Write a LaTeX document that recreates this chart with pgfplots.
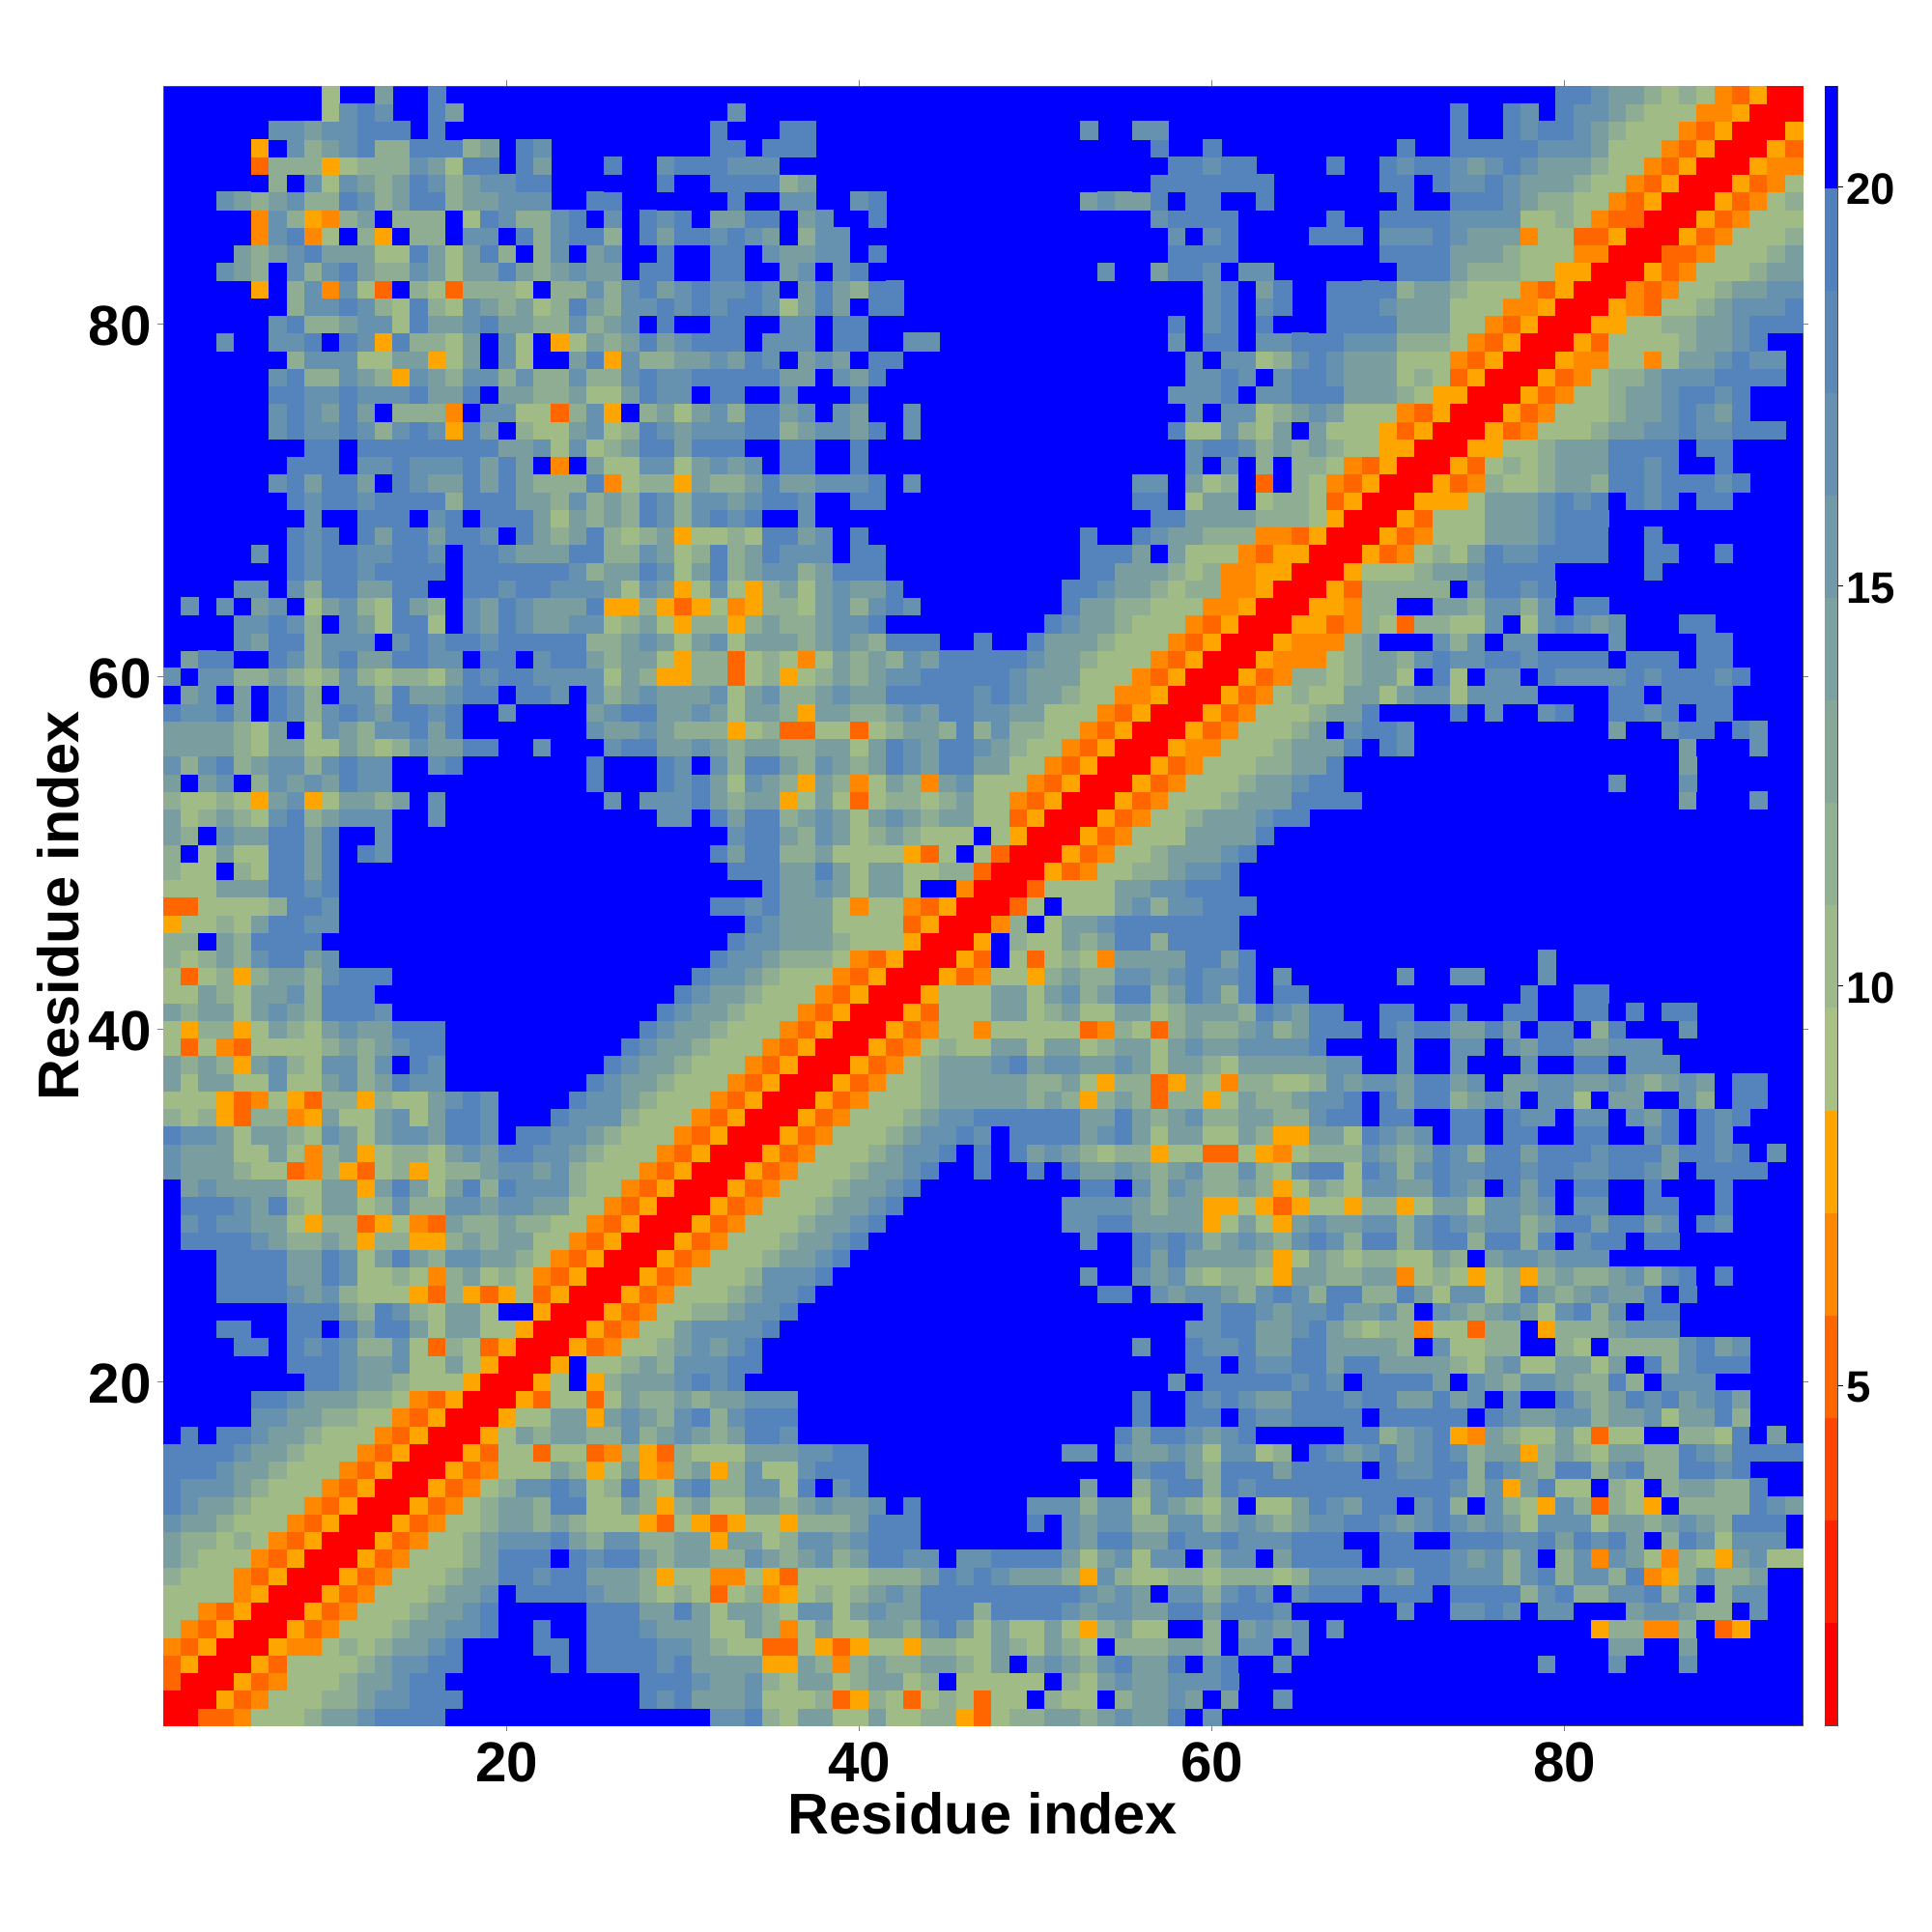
\documentclass[border=0pt]{standalone}
\usepackage{pgfplots}
\usepackage{pgfplotstable}
\pgfplotsset{compat=1.18}
\usepackage{fontspec}
\setmainfont{Liberation Sans}
\definecolor{c0}{RGB}{255,0,0}
\definecolor{c1}{RGB}{255,102,0}
\definecolor{c2}{RGB}{255,136,0}
\definecolor{c3}{RGB}{255,165,0}
\definecolor{c4}{RGB}{161,187,134}
\definecolor{c5}{RGB}{143,173,146}
\definecolor{c6}{RGB}{122,158,160}
\definecolor{c7}{RGB}{102,145,175}
\definecolor{c8}{RGB}{84,132,187}
\definecolor{c9}{RGB}{0,0,255}
\pgfplotsset{cell/.style={scatter, only marks, scatter src=explicit symbolic, mark size=3.285pt, line width=0.1pt,
 scatter/classes={0={mark=square*,c0},1={mark=square*,c1},2={mark=square*,c2},3={mark=square*,c3},4={mark=square*,c4},5={mark=square*,c5},6={mark=square*,c6},7={mark=square*,c7},8={mark=square*,c8},9={mark=square*,c9}}}}
% one row of the matrix: row number, then the colour classes from the diagonal to the right
\newcommand\R[2]{%
 \pgfplotstableread[header=false,row sep=crcr,col sep=space]{#2\\}\T
 \pgfplotstabletranspose\U\T
 \addplot[cell] table[x expr=\coordindex+#1,y expr=#1,meta index=1]{\U};
 \addplot[cell] table[y expr=\coordindex+#1,x expr=#1,meta index=1]{\U};
}
\newcommand\B[4]{\addplot[fill={rgb,255:red,#2;green,#3;blue,#4},draw=none] coordinates {(0,#1)(1,#1)(1,#1+1.2825)(0,#1+1.2825)} --cycle;}
\begin{document}
\begin{tikzpicture}[x=1pt,y=1pt]
\path[use as bounding box] (0,0) rectangle (720,720);
\begin{axis}[at={(60.84pt,77.04pt)},anchor=south west,scale only axis,width=610.9pt,height=610.9pt,
 xmin=0.5,xmax=93.5,ymin=0.5,ymax=93.5,axis background/.style={fill=c9},
 xtick={20,40,60,80},ytick={20,40,60,80},tick align=outside,major tick length=2.2pt,
 tick style={gray,line width=0.3pt},axis line style={line width=0.3pt,black!70},
 /pgf/number format/assume math mode=true,
 tick label style={font=\fontsize{21}{24}\selectfont\bfseries},
 xticklabel style={yshift=-0.7pt},yticklabel style={xshift=1.3pt,yshift=-0.9pt},
 xlabel={Residue index},ylabel={Residue index},
 every axis x label/.style={at={(axis description cs:0.5,0)},anchor=center,yshift=-32.7pt,font=\fontsize{21.4}{24}\selectfont\bfseries},
 every axis y label/.style={at={(axis description cs:0,0.5)},anchor=center,rotate=90,yshift=39.2pt,font=\fontsize{21.4}{24}\selectfont\bfseries}]
\R{1}{0 0 1 1 2 4 4 4 5 6 6 7 8 8 8 8 9 9 9 9 9 9 9 9 9 9 9 9 9 9 9 7 7 8 5 4 6 6 4 4 6 4 4 5 5 3 1 4 5 5 6 6 5 6 7 6 6 8 9 7}
\R{2}{0 0 3 1 2 4 4 4 5 5 6 7 7 8 8 8 9 9 9 9 9 9 9 9 9 9 8 7 8 6 6 6 7 4 4 4 5 1 3 5 4 1 4 5 4 1 4 4 9 5 4 4 9 5 6 6 7 6 9 6 9 9 7}
\R{3}{0 0 3 1 2 4 4 4 5 6 6 7 8 8 9 9 9 9 9 9 9 9 9 9 9 8 8 8 7 6 6 7 5 4 6 6 4 5 6 6 4 5 9 4 4 4 4 4 9 5 4 6 7 6 6 7 7 7 8}
\R{4}{0 0 3 1 4 4 4 4 5 6 7 7 8 8 9 9 9 9 9 8 9 8 8 8 8 7 8 6 6 6 6 3 3 6 5 2 5 6 5 5 6 6 5 4 6 9 6 7 6 5 7 8 6 6 8 9 7 8 9 9 7 9 9 9 9 9 9 9 9 9 9 9 9 9 9 7 9 9 9 7 9 9 9 7}
\R{5}{0 0 3 2 2 4 5 4 5 6 6 7 8 9 9 9 9 8 8 9 8 8 8 8 7 7 6 5 4 4 1 1 4 3 1 3 4 4 3 5 5 4 4 6 5 4 6 5 4 9 5 5 5 6 6 5 9 7 7 9 7 9 9 9 9 9 9 9 9 9 9 9 9 9 9 9 9 9 6 6 9 9 6}
\R{6}{0 0 3 1 2 4 4 4 5 6 6 7 7 8 9 9 8 9 9 8 8 8 7 6 6 6 4 4 6 5 2 4 6 4 4 6 6 5 7 8 6 4 6 4 4 6 4 3 5 6 4 4 9 9 5 9 6 7 6 7 9 7 9 9 9 9 9 9 9 9 9 9 9 9 9 9 3 5 5 2 2 5 9 1 3}
\R{7}{0 0 3 1 2 4 4 4 5 6 6 7 8 9 9 9 9 9 8 8 8 6 6 8 6 4 6 6 5 4 7 7 4 6 7 6 6 8 8 8 5 8 8 8 8 7 6 7 7 6 6 8 8 6 8 8 8 7 9 9 9 9 9 9 7 9 9 7 7 8 7 9 7 7 9 9 9 6 7 7 6 5 5 9 7}
\R{8}{0 0 3 1 2 4 4 4 5 6 6 7 9 8 8 8 8 7 6 6 5 4 5 4 1 4 5 2 3 4 5 4 5 6 7 6 8 8 8 8 8 8 8 8 8 7 6 7 6 9 7 7 5 7 8 7 9 7 8 8 8 9 8 8 8 9 8 8 8 8 5 7 8 5 5 7 7 8 5 7 9 5 7 7}
\R{9}{0 0 3 1 2 4 4 4 5 6 6 8 8 7 8 8 6 6 6 5 3 4 4 2 2 4 3 1 4 4 4 4 5 5 5 6 8 7 8 7 6 6 6 5 3 7 5 4 4 5 5 4 5 5 5 4 5 7 7 7 7 7 6 8 8 7 7 7 5 7 8 5 7 7 5 8 2 3 5 7 5 5 6}
\R{10}{0 0 3 1 2 4 4 4 5 6 8 8 8 9 8 7 8 8 6 5 6 6 5 5 7 6 5 6 7 5 6 8 8 7 7 9 7 7 8 8 8 8 6 4 6 7 4 7 7 9 5 7 7 9 6 8 8 8 8 9 8 8 8 8 7 6 7 5 7 9 5 7 2 7 6 4 2 5 4 3 6 7 4 4}
\R{11}{0 0 3 1 2 4 4 5 6 7 7 7 8 6 5 7 7 5 5 6 6 3 6 6 4 5 7 7 6 7 8 8 8 9 9 9 9 9 9 9 9 7 6 8 8 6 6 8 7 7 8 7 7 7 8 8 8 9 9 8 8 9 9 8 8 8 7 7 8 6 8 7 8 6 9 5 8 7 4 7 7 7}
\R{12}{0 0 3 1 2 4 4 5 6 6 5 6 5 4 4 4 3 1 4 3 1 3 4 4 3 5 5 5 6 8 8 8 9 9 9 9 9 9 8 9 7 6 7 7 5 5 7 7 5 6 7 6 5 6 7 7 8 8 7 6 7 8 7 6 7 6 4 7 7 7 4 6 6 5 6 7 6 5 8 8 8}
\R{13}{0 0 3 1 2 4 5 6 6 5 8 8 4 4 6 5 3 5 6 4 4 6 6 5 6 7 6 6 7 9 8 9 9 9 9 9 9 7 7 7 5 7 7 4 7 6 5 4 6 9 4 4 6 8 7 6 8 8 9 7 8 5 9 7 5 4 3 7 5 1 5 4 3 9 5 5 5 5 8 7 6}
\R{14}{0 0 3 1 2 4 5 7 7 8 7 4 5 8 5 4 7 8 5 5 7 7 4 8 9 7 8 9 9 9 9 9 9 9 9 9 9 9 9 6 9 9 5 7 8 8 5 8 7 8 8 8 8 8 8 8 8 8 8 8 7 5 7 3 6 8 4 4 9 5 4 9 5 6 6 5 5 8}
\R{15}{0 0 3 1 2 4 4 4 6 5 3 4 6 3 2 5 6 3 5 7 4 4 7 8 8 8 9 9 9 9 9 9 9 9 9 9 9 9 9 9 9 7 8 8 6 5 8 8 8 6 8 8 8 8 9 8 7 7 8 8 5 8 7 6 5 8 8 5 7 8 5 5 8 8 7 8}
\R{16}{0 0 3 1 4 4 1 4 4 1 2 5 3 1 5 4 4 4 6 6 6 7 7 8 8 9 9 9 9 9 9 9 9 9 9 9 7 7 9 7 6 6 7 6 4 7 7 4 5 9 8 7 6 7 8 6 7 8 7 5 6 6 3 5 6 5 4 6 6 5 5 8 7 6 8 8 8 8}
\R{17}{0 0 3 4 6 5 6 6 5 5 7 5 6 7 6 5 6 8 8 7 9 9 9 9 9 9 9 9 9 9 9 9 9 9 9 9 9 9 8 6 8 8 7 6 7 8 9 9 9 9 9 8 8 5 6 7 8 3 2 6 5 4 4 6 4 1 4 4 9 9 5 5 4 8 9 6}
\R{18}{0 0 3 4 4 6 6 3 6 7 6 5 7 8 5 7 8 8 8 9 9 9 9 9 9 9 9 9 9 9 9 9 9 9 9 9 9 9 8 9 9 8 8 9 8 7 7 8 8 8 8 9 8 8 8 8 8 9 8 7 6 6 7 7 5 6 6 7 4 6 6 8 5}
\R{19}{0 0 3 1 4 4 1 4 6 5 5 6 5 6 6 7 7 7 9 9 9 9 9 9 9 9 9 9 9 9 9 9 9 9 9 9 9 8 9 9 8 7 8 7 6 6 8 8 8 7 8 8 6 6 8 6 7 9 7 9 9 8 6 5 6 8 7 8 6 7 8 6}
\R{20}{0 0 3 4 9 3 5 6 6 6 7 8 7 8 9 9 9 9 9 9 9 9 9 9 9 9 9 9 9 9 9 9 9 9 9 9 9 9 7 9 8 8 8 8 8 7 8 7 9 8 8 8 8 6 9 7 6 5 7 7 6 5 5 8 5 9 7 7 7}
\R{21}{0 0 3 9 4 4 5 6 5 7 7 7 8 8 9 9 9 9 9 9 9 9 9 9 9 9 9 9 9 9 9 9 9 9 9 9 9 9 8 8 9 8 7 7 8 8 6 8 8 6 6 6 6 5 4 6 7 4 4 6 6 4 6 9 8 5 7 8 8 8}
\R{22}{0 0 3 1 2 4 4 5 6 7 6 7 8 9 9 9 9 9 9 9 9 9 9 9 9 9 9 9 9 9 9 9 9 9 7 9 9 8 7 7 8 6 6 8 8 6 6 6 6 5 9 7 4 4 5 5 9 9 5 4 9 5 5 5 5 7 8 6 7}
\R{23}{0 0 3 1 2 4 4 6 7 7 7 7 8 9 9 9 9 9 9 9 9 9 9 9 9 9 9 9 9 9 9 9 9 9 9 9 7 7 8 8 6 6 7 8 6 5 4 5 5 2 4 4 1 5 5 9 3 5 5 5 6 7 7 7}
\R{24}{0 0 3 1 2 4 4 5 5 6 7 7 8 9 9 9 9 9 9 9 9 9 9 9 9 9 9 9 9 9 9 9 9 9 9 9 7 8 8 7 6 7 7 8 6 6 7 5 9 7 6 5 6 7 6 4 7 8 5 7 9 8 8}
\R{25}{0 0 3 1 2 4 4 4 5 6 7 7 8 9 9 9 9 9 9 9 9 9 9 9 9 9 9 9 9 8 8 9 7 6 7 7 6 5 7 8 7 5 8 8 5 5 8 6 4 7 7 4 5 8 6 5 6 7 6 6 8 9 8}
\R{26}{0 0 3 1 2 4 4 4 5 7 7 7 8 9 9 9 9 9 9 9 9 9 9 9 9 9 9 7 9 9 7 6 7 5 4 5 5 4 3 6 6 5 5 6 6 2 4 5 4 3 4 5 3 5 6 5 5 6 7 5 7 8 9 8}
\R{27}{0 0 3 1 2 4 4 4 5 6 6 7 8 9 9 9 9 9 9 9 9 9 9 9 9 9 9 9 9 8 6 8 6 6 6 6 5 3 4 6 5 4 5 5 4 4 6 5 9 6 7 7 6 7 7 7}
\R{28}{0 0 3 1 2 4 4 4 5 6 6 7 8 9 9 9 9 9 9 9 9 9 9 9 9 7 9 9 8 7 8 7 5 6 7 6 5 7 8 7 5 8 8 5 7 8 8 5 8 8 5 8 9 7 8 8 9 8 8}
\R{29}{0 0 3 1 2 4 4 4 5 6 6 7 8 9 9 9 9 9 9 9 9 9 9 7 7 8 8 6 6 6 6 3 4 6 4 3 6 7 6 6 7 7 5 7 8 7 6 7 7 5 6 8 8 6 8 8 6 7 9 8 7}
\R{30}{0 0 3 1 2 4 4 4 5 6 6 7 8 9 9 9 9 9 9 9 9 9 7 7 7 7 6 5 6 6 3 3 4 3 1 3 4 4 3 5 5 3 4 6 6 4 7 7 6 7 9 7 7 9 9 8 8 9 9 8}
\R{31}{0 0 3 1 2 4 4 4 5 6 6 7 8 9 9 9 9 9 9 9 9 9 8 8 9 7 5 7 6 5 5 6 5 3 4 6 5 4 7 7 6 6 8 7 6 9 8 6 8 9 8 8 9 9 8 9 9 9 8}
\R{32}{0 0 3 1 2 4 4 4 5 6 6 7 8 9 9 8 9 9 8 9 8 6 6 7 6 5 6 7 5 5 7 5 4 7 8 8 4 8 7 5 7 8 7 7 8 8 7 8 8 7 7 8 8 7 6 9 8 8 8 8}
\R{33}{0 0 3 1 2 4 4 4 5 6 7 7 8 9 8 9 8 6 7 6 5 4 5 5 3 4 4 1 1 4 3 2 4 5 5 5 7 6 5 6 8 7 5 8 8 6 8 8 8 7 8 8 8 6 8 8 7 8 9 7}
\R{34}{0 0 3 1 2 4 4 4 5 6 7 7 8 7 9 8 8 8 8 6 7 8 6 4 6 6 4 4 6 5 3 3 6 6 4 8 7 6 7 9 8 8 9 8 8 9 9 8 8 9 9 7 8 9 8 7}
\R{35}{0 0 3 1 2 4 4 4 5 6 7 7 8 8 8 8 8 8 6 6 8 6 5 6 7 5 5 6 6 5 5 7 8 8 9 8 8 9 9 8 8 9 8 7 7 9 7 7 9 7 6 8 9 8 7 8}
\R{36}{0 0 3 1 2 4 4 4 5 6 6 6 6 6 5 6 5 3 5 6 5 1 5 5 3 4 6 5 5 6 7 7 8 9 8 6 8 8 5 6 7 6 9 7 7 4 9 6 6 9 9 7 5 9 8 8}
\R{37}{0 0 3 1 2 4 4 5 6 6 6 6 6 5 5 6 4 3 5 5 1 3 5 4 2 5 5 4 4 5 7 6 7 7 6 8 8 6 7 9 6 6 7 7 6 6 7 6 5 6 7 6 9 8 8}
\R{38}{0 0 3 1 2 4 5 6 6 6 7 8 6 7 7 6 6 7 6 4 6 6 5 4 6 6 6 6 6 7 7 9 9 7 9 9 7 9 9 9 7 9 9 8 8 9 7 7 7}
\R{39}{0 0 3 1 2 4 5 4 4 6 6 4 6 6 4 5 6 6 4 6 7 6 6 7 7 7 7 8 9 9 9 9 7 9 9 7 7 9 7 6 8 8 6 6 7 7 7}
\R{40}{0 0 3 1 2 4 4 2 4 4 4 4 4 1 2 5 4 1 5 6 5 5 6 7 5 6 8 8 8 9 8 7 8 8 6 6 8 6 9 8 8 9 5 8 9 9 9 7}
\R{41}{0 0 3 1 4 4 4 6 6 4 5 6 4 4 6 6 4 5 6 6 6 5 8 7 6 8 8 9 9 8 8 9 9 8 9 9 8 8 9 9 8 8 9 8 9 8 8}
\R{42}{0 0 3 4 4 4 6 6 4 6 7 5 6 8 8 5 6 8 7 5 8 9 8 8 9 9 9 9 9 9 9 9 9 9 9 9 8 9 9 8 8}
\R{43}{0 0 3 1 2 4 4 3 5 6 5 5 7 7 6 7 8 7 7 8 9 7 9 9 9 9 9 9 7 9 9 7 7 9 9 9 7}
\R{44}{0 0 3 1 9 4 1 4 5 4 2 6 6 6 6 8 8 6 8 9 9 9 9 9 9 9 9 9 9 9 9 9 9 9 9 7}
\R{45}{0 0 3 9 5 4 4 6 5 6 8 8 5 8 8 8 8}
\R{46}{0 0 2 5 9 4 6 6 7 8 8 8 8 8 8 8}
\R{47}{0 0 1 4 9 4 4 4 6 7 5 7 7 8 8 8}
\R{48}{0 0 1 4 4 4 4 6 6 7 7 8 8 8}
\R{49}{0 0 3 1 2 4 4 5 5 6 7 7 8}
\R{50}{0 0 3 1 2 4 4 5 6 6 6 7 8}
\R{51}{0 0 3 1 2 4 4 4 6 6 6 6 8}
\R{52}{0 0 3 1 2 4 4 5 6 6 6 7 8 8}
\R{53}{0 0 3 1 2 4 4 4 5 6 6 6 8 8 8 8 9 9 9 9 9 9 9 9 9 9 9 9 9 9 9 9 9 9 6 9 9 9 7}
\R{54}{0 0 3 1 2 4 4 4 5 6 6 7 8 8 9 9 9 9 9 9 9 9 9 9 9 9 9 9 9 7 9 9 9 7}
\R{55}{0 0 3 1 2 4 4 4 5 5 6 6 8 9 9 9 9 9 9 9 9 9 9 9 9 9 9 9 9 9 9 9 6}
\R{56}{0 0 3 2 2 4 4 4 5 6 6 6 8 9 8 7 9 9 9 9 9 9 9 9 9 9 9 9 9 9 9 6 9 9 9 7}
\R{57}{0 0 3 1 2 4 4 4 5 6 9 7 8 8 7 9 9 9 9 9 9 9 9 9 9 9 6 9 9 7 8 8 9 8 7}
\R{58}{0 0 3 1 2 4 4 4 5 6 6 8 9 9 9 9 8 9 7 9 9 7 8 9 9 8 8 7 8 9 8 8}
\R{59}{0 0 3 1 2 4 5 4 4 6 6 4 6 7 7 4 7 7 7 7 9 9 9 9 8 8 9 8 8 8 8}
\R{60}{0 0 3 1 2 5 5 4 5 6 6 4 9 8 4 9 7 7 9 8 7 7 7 7 8 7 8 8 8 7 8}
\R{61}{0 0 3 2 2 2 4 5 6 6 5 7 8 7 7 8 8 7 8 8 8 8 9 8 8 8 9 8 8}
\R{62}{0 0 3 2 2 2 5 6 9 9 9 7 5 7 9 7 7 9 9 9 9 7 9 9 9 9 8 8}
\R{63}{0 0 3 3 1 2 5 4 1 5 5 4 4 7 9 4 7 8 7 6 7 9 9 9 8 8}
\R{64}{0 0 3 3 2 5 5 9 9 6 6 5 7 7 5 7 9 8 8}
\R{65}{0 0 3 1 5 5 5 5 5 9 6 8 8 7 8}
\R{66}{0 0 3 4 4 4 5 6 6 7 8 8 8 8 9 9 9 9 9 8}
\R{67}{0 0 3 1 2 4 5 4 6 8 7 7 8 8 8 8 9 9 8 8 9 9 8}
\R{68}{0 0 3 1 2 4 4 4 6 6 6 7 8 8 8 9 9 8}
\R{69}{0 0 3 1 4 4 4 6 6 6 7 8 8 8}
\R{70}{0 0 3 3 3 4 6 6 6 7 8 7 8 9 8 7 8 9 8 8}
\R{71}{0 0 3 1 2 5 4 4 5 6 6 5 8 8 7 8 8 8 7 8}
\R{72}{0 0 3 1 4 5 4 5 6 6 6 8 8 7 8 9 9 8}
\R{73}{0 0 3 3 4 4 5 6 6 6 8 8 8 8 9 8 8}
\R{74}{0 0 3 1 2 4 4 4 5 6 6 7 7 8 7 7 8 8 8}
\R{75}{0 0 3 1 2 4 4 4 5 6 6 7 8 7 6 8}
\R{76}{0 0 3 1 2 4 4 5 6 6 7 8 8 7 8}
\R{77}{0 0 3 1 2 4 5 5 6 7 7 7 8 8 8 8}
\R{78}{0 0 3 2 2 4 4 2 4 6 6 7 8 7 7}
\R{79}{0 0 3 1 4 4 4 4 5 6 6 7 8}
\R{80}{0 0 3 3 4 4 5 5 6 6 7 8 8 8}
\R{81}{0 0 3 2 1 4 4 5 6 7 7 7 8}
\R{82}{0 0 2 1 2 4 4 5 6 6 7 7}
\R{83}{0 0 3 1 2 4 4 4 5 6 6}
\R{84}{0 0 1 1 2 4 4 4 5 6}
\R{85}{0 0 3 1 2 4 4 4 5}
\R{86}{0 0 3 1 2 4 4 4}
\R{87}{0 0 3 1 2 4 5}
\R{88}{0 0 3 1 2 4}
\R{89}{0 0 3 2 2}
\R{90}{0 0 3 1}
\R{91}{0 0 3}
\R{92}{0 0}
\R{93}{0}
\end{axis}
\begin{axis}[at={(680.04pt,77.04pt)},anchor=south west,scale only axis,width=4.7pt,height=610.9pt,
 xmin=0,xmax=1,ymin=0.744,ymax=21.26,xtick=\empty,ytick={5,10,15,20},ytick pos=right,yticklabel pos=right,
 tick align=outside,major tick length=2.2pt,tick style={black,line width=0.3pt},
 axis line style={line width=0.3pt,black!70},
 /pgf/number format/assume math mode=true,
 yticklabel style={font=\fontsize{16.4}{18}\selectfont\bfseries,anchor=west,xshift=-2.5pt,yshift=-0.8pt}]
\B{0.744}{255}{0}{0}
\B{2.0265}{255}{34}{0}
\B{3.309}{255}{69}{0}
\B{4.5915}{255}{102}{0}
\B{5.874}{255}{136}{0}
\B{7.1565}{255}{165}{0}
\B{8.439}{168}{192}{131}
\B{9.7215}{157}{184}{138}
\B{11.004}{146}{176}{146}
\B{12.2865}{135}{168}{153}
\B{13.569}{124}{161}{160}
\B{14.8515}{113}{153}{167}
\B{16.134}{102}{145}{175}
\B{17.4165}{91}{137}{182}
\B{18.699}{80}{129}{189}
\B{19.9815}{0}{0}{255}
\end{axis}
\end{tikzpicture}
\end{document}
